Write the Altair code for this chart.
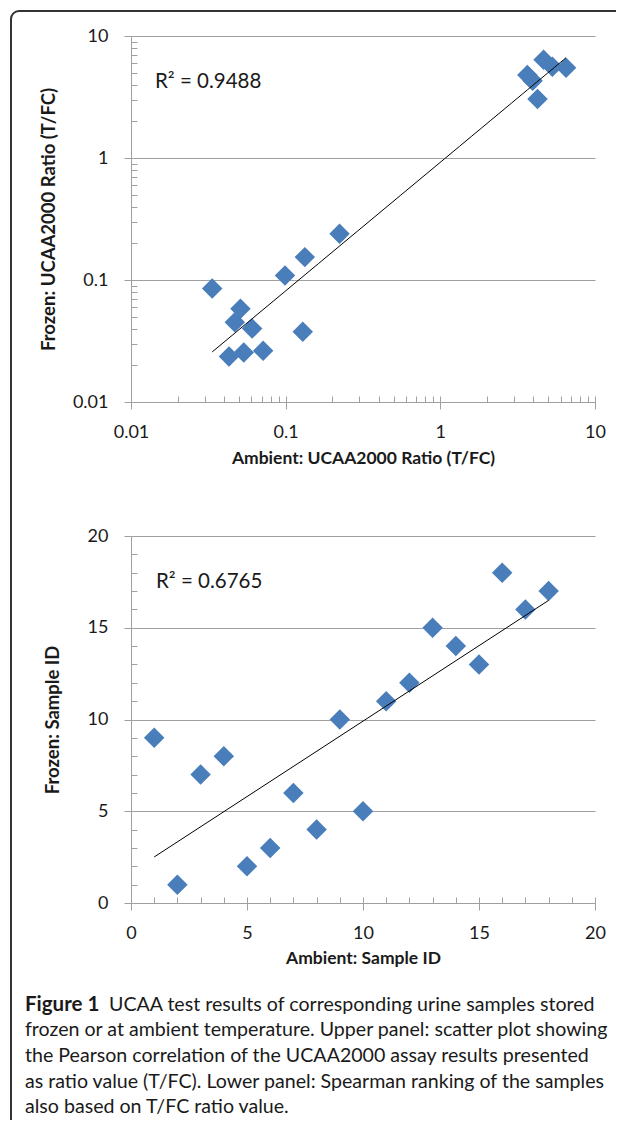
import altair as alt
import pandas as pd

# ---------------- data ----------------
amb_ratio = [0.0335, 0.043, 0.0469, 0.051, 0.0536, 0.0607, 0.0715, 0.099, 0.129,
             0.133, 0.223, 3.65, 3.95, 4.25, 4.65, 5.3, 6.5]
frz_ratio = [0.085, 0.0236, 0.045, 0.058, 0.0255, 0.040, 0.0263, 0.109, 0.0376,
             0.154, 0.239, 4.8, 4.3, 3.05, 6.4, 5.6, 5.5]

amb_rank = [1, 2, 3, 4, 5, 6, 7, 8, 9, 10, 11, 12, 13, 14, 15, 16, 17, 18]
frz_rank = [9, 1, 7, 8, 2, 3, 6, 4, 10, 5, 11, 12, 15, 14, 13, 18, 16, 17]

log_major = [0.01, 0.1, 1, 10]
log_minor = [0.01, 0.02, 0.03, 0.04, 0.05, 0.06, 0.07, 0.08, 0.09,
             0.1, 0.2, 0.3, 0.4, 0.5, 0.6, 0.7, 0.8, 0.9,
             1, 2, 3, 4, 5, 6, 7, 8, 9, 10]
lin_major = [0, 5, 10, 15, 20]
lin_minor = list(range(0, 21))

r2_labels = ["R² = 0.9488", "R² = 0.6765"]
axis_titles = {
    "x1": "Ambient: UCAA2000 Ratio (T/FC)",
    "y1": "Frozen: UCAA2000 Ratio (T/FC)",
    "x2": "Ambient: Sample ID",
    "y2": "Frozen: Sample ID",
}
caption_bold = "Figure 1"
caption_lines = [
    "UCAA test results of corresponding urine samples stored",
    "frozen or at ambient temperature. Upper panel: scatter plot showing",
    "the Pearson correlation of the UCAA2000 assay results presented",
    "as ratio value (T/FC). Lower panel: Spearman ranking of the samples",
    "also based on T/FC ratio value.",
]

# ---------------- style ----------------
BLUE = "#4a7ebb"
GRID = "#a0a0a0"
TXT = "#1a1a1a"
FONT = "Lato"
W = 464
H1 = 366
H2 = 367

df1 = pd.DataFrame({"amb": amb_ratio, "frz": frz_ratio})
df2 = pd.DataFrame({"amb": amb_rank, "frz": frz_rank})
one = pd.DataFrame({"k": [0]})


def major_axis(orient, values, title, h, fmt=None, title_off=0):
    kw = dict(
        orient=orient, values=values, title=title,
        domainColor=GRID, domainWidth=1,
        tickColor=GRID, tickSize=7, tickWidth=1,
        labelFont=FONT, labelFontSize=18, labelColor=TXT,
        labelFlush=False, labelOverlap=False, labelBound=False,
        titleFont=FONT, titleFontWeight="bold",
        titleColor=TXT, titleBaseline="middle",
    )
    if fmt:
        kw["format"] = fmt
    if orient == "left":
        kw.update(grid=True, gridColor=GRID, gridWidth=1, labelPadding=16,
                  titleFontSize=18.5,
                  titleX=title_off, titleY=h / 2, titleAngle=270)
    else:
        kw.update(grid=False, labelPadding=14, titleFontSize=17.5,
                  titleY=title_off, titleX=W / 2)
    return alt.Axis(**kw)


def minor_axis(orient, values):
    return alt.Axis(
        orient=orient, values=values, title="", offset=-6,
        domain=False, grid=False, labels=False,
        tickColor=GRID, tickSize=6, tickWidth=1,
    )


# ---------------- upper panel ----------------
xs1 = alt.Scale(type="log", domain=[0.01, 10], nice=False)
ys1 = alt.Scale(type="log", domain=[0.01, 10], nice=False)

pts1 = alt.Chart(df1).mark_point(
    shape="diamond", filled=True, size=420, color=BLUE, opacity=1, strokeWidth=0
).encode(
    x=alt.X("amb:Q", scale=xs1,
            axis=major_axis("bottom", log_major, axis_titles["x1"], H1, "~g", 56)),
    y=alt.Y("frz:Q", scale=ys1,
            axis=major_axis("left", log_major, axis_titles["y1"], H1, "~g", -83)),
)

fit1 = alt.Chart(df1).transform_regression(
    "amb", "frz", method="pow"
).mark_line(color="#000000", strokeWidth=1).encode(
    x=alt.X("amb:Q", scale=xs1, axis=minor_axis("bottom", log_minor)),
    y=alt.Y("frz:Q", scale=ys1, axis=minor_axis("left", log_minor)),
)

r2_1 = alt.Chart(pd.DataFrame({"t": [r2_labels[0]]})).mark_text(
    align="left", baseline="middle", font=FONT, fontSize=20.5, color=TXT
).encode(x=alt.value(24), y=alt.value(46), text="t:N")

# figure frame (top-left rounded corner, top and left edges)
frame_top = alt.Chart(one).mark_rule(color="#333333", strokeWidth=2).encode(
    x=alt.value(-112), x2=alt.value(485), y=alt.value(-25))
frame_left = alt.Chart(one).mark_rule(color="#333333", strokeWidth=2).encode(
    y=alt.value(-17), y2=alt.value(1084), x=alt.value(-120))
frame_corner = alt.Chart(one).mark_arc(
    theta=4.712, theta2=6.2832, radius=9, radius2=7, color="#333333"
).encode(x=alt.value(-112), y=alt.value(-17))

upper = alt.layer(
    frame_top, frame_left, frame_corner, pts1, fit1, r2_1
).resolve_axis(x="independent", y="independent").properties(width=W, height=H1)

# ---------------- lower panel ----------------
xs2 = alt.Scale(domain=[0, 20], nice=False, zero=False)
ys2 = alt.Scale(domain=[0, 20], nice=False, zero=False)

pts2 = alt.Chart(df2).mark_point(
    shape="diamond", filled=True, size=420, color=BLUE, opacity=1, strokeWidth=0
).encode(
    x=alt.X("amb:Q", scale=xs2,
            axis=major_axis("bottom", lin_major, axis_titles["x2"], H2, None, 55)),
    y=alt.Y("frz:Q", scale=ys2,
            axis=major_axis("left", lin_major, axis_titles["y2"], H2, None, -79)),
)

fit2 = alt.Chart(df2).transform_regression(
    "amb", "frz", method="linear"
).mark_line(color="#000000", strokeWidth=1).encode(
    x=alt.X("amb:Q", scale=xs2, axis=minor_axis("bottom", lin_minor)),
    y=alt.Y("frz:Q", scale=ys2, axis=minor_axis("left", lin_minor)),
)

r2_2 = alt.Chart(pd.DataFrame({"t": [r2_labels[1]]})).mark_text(
    align="left", baseline="middle", font=FONT, fontSize=20.5, color=TXT
).encode(x=alt.value(25), y=alt.value(46), text="t:N")

# caption
cap_layers = [
    alt.Chart(pd.DataFrame({"t": [caption_bold]})).mark_text(
        align="left", baseline="middle", font=FONT, fontSize=20.5,
        fontWeight="bold", color=TXT
    ).encode(x=alt.value(-106), y=alt.value(469), text="t:N")
]
cap_x = [-22, -106, -106, -106, -106]
cap_y = [469, 494, 520, 546, 571]
for i, line in enumerate(caption_lines):
    cap_layers.append(
        alt.Chart(pd.DataFrame({"t": [line]})).mark_text(
            align="left", baseline="middle", font=FONT, fontSize=19.6, color=TXT
        ).encode(x=alt.value(cap_x[i]), y=alt.value(cap_y[i]), text="t:N")
    )

lower = alt.layer(
    pts2, fit2, r2_2, *cap_layers
).resolve_axis(x="independent", y="independent").properties(width=W, height=H2)

chart = alt.vconcat(upper, lower, spacing=134, bounds="flush").properties(
    padding={"left": 2, "top": 2, "right": 0, "bottom": 0},
    background="white",
).configure_view(stroke=None)

chart.save("out.html", embed_options={"renderer": "svg", "actions": False})
